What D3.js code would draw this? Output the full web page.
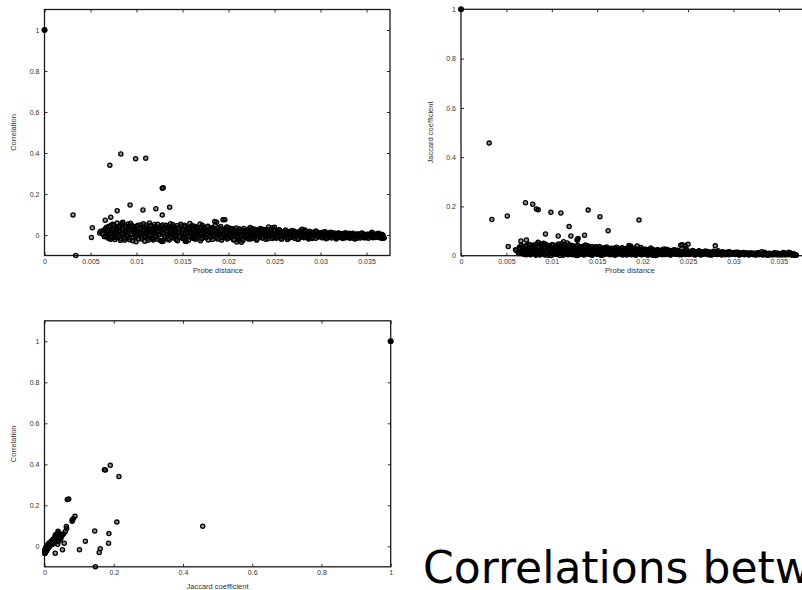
<!DOCTYPE html>
<html>
<head>
<meta charset="utf-8">
<script src="https://cdn.jsdelivr.net/npm/d3@7"></script>
<style>
body{margin:0;background:#fff;}
svg{display:block;}
.tick text{font-family:"Liberation Sans",Arial,sans-serif;font-size:7px;fill:#333;}
.axisTitle{font-family:"Liberation Sans",Arial,sans-serif;font-size:7.5px;fill:#333;}
.slideTitle{font-family:"DejaVu Sans",sans-serif;font-size:44px;fill:#000;}
</style>
</head>
<body>
<svg id="chart" width="802" height="590"></svg>
<script>
// tick labels
var distanceTicks = [0, 0.005, 0.01, 0.015, 0.02, 0.025, 0.03, 0.035];
var unitTicks = [0, 0.2, 0.4, 0.6, 0.8, 1];

// every probe pair is [probe distance, correlation, jaccard coefficient]
var selfPairs = [[0, 1, 1]];

var outlierPairs = [
  [0.0031,0.098,0.457],[0.0034,-0.100,0.147],[0.0051,-0.012,0.161],[0.0052,0.035,0.037],
  [0.0071,0.340,0.215],[0.0083,0.395,0.190],[0.0099,0.372,0.176],[0.0110,0.374,0.173],
  [0.0129,0.231,0.070],[0.0128,0.228,0.066],[0.0128,0.097,0.063],[0.0093,0.146,0.088],
  [0.0079,0.118,0.209],[0.0107,0.122,0.080],[0.0121,0.128,0.080],[0.0136,0.135,0.083],
  [0.0066,0.072,0.060],[0.0072,0.087,0.064],[0.0085,0.062,0.186],[0.0140,0.015,0.185],
  [0.0196,0.075,0.145],[0.0153,-0.030,0.158],[0.0162,-0.017,0.101],[0.0119,0.025,0.118],
  [0.0209,-0.034,0.031],[0.0117,-0.017,0.052],[0.0113,0.015,0.057]
];

var bandPairs = [
  [0.0060,0.010,0.024],[0.0061,0.018,0.021],[0.0063,0.005,0.012],[0.0064,0.022,0.033],[0.0065,-0.008,0.009],[0.0066,0.030,0.041],[0.0068,0.014,0.027],[0.0069,-0.015,0.006],
  [0.0070,0.041,0.038],[0.0071,0.008,0.017],[0.0072,-0.021,0.004],[0.0073,0.025,0.029],[0.0074,0.052,0.046],[0.0075,0.002,0.011],[0.0076,0.017,0.024],[0.0077,-0.012,0.008],[0.0078,0.033,0.035],[0.0079,0.058,0.043],
  [0.0080,-0.004,0.013],[0.0081,0.021,0.030],[0.0082,0.044,0.039],[0.0083,-0.018,0.005],[0.0084,0.009,0.019],[0.0085,0.060,0.055],[0.0086,0.028,0.034],[0.0087,-0.025,0.003],[0.0088,0.013,0.022],[0.0089,0.038,0.047],
  [0.0090,0.000,0.015],[0.0091,0.054,0.051],[0.0092,-0.013,0.007],[0.0093,0.024,0.028],[0.0094,0.006,0.018],[0.0095,0.046,0.040],[0.0096,-0.028,0.002],[0.0097,0.016,0.025],[0.0098,0.031,0.036],[0.0099,-0.007,0.010],
  [0.0100,0.042,0.044],[0.0101,0.011,0.020],[0.0102,-0.020,0.006],[0.0103,0.027,0.031],[0.0104,0.003,0.014],[0.0105,0.050,0.042],[0.0106,-0.010,0.009],[0.0107,0.019,0.026],[0.0108,0.035,0.037],[0.0109,-0.030,0.001],
  [0.0110,0.007,0.016],[0.0111,0.048,0.049],[0.0112,-0.016,0.008],[0.0113,0.023,0.027],[0.0114,0.059,0.045],[0.0115,-0.002,0.012],[0.0116,0.030,0.033],[0.0117,0.014,0.021],[0.0118,-0.024,0.004],[0.0119,0.040,0.039],
  [0.0120,0.009,0.018],[0.0121,-0.011,0.007],[0.0122,0.036,0.034],[0.0123,0.052,0.041],[0.0124,0.001,0.013],[0.0125,0.020,0.024],[0.0126,-0.027,0.003],[0.0127,0.044,0.038],[0.0128,0.012,0.019],[0.0129,-0.031,0.002],
  [0.0130,0.026,0.029],[0.0131,-0.006,0.010],[0.0132,0.047,0.036],[0.0133,0.015,0.022],[0.0134,-0.019,0.005],[0.0135,0.033,0.031],[0.0136,0.004,0.014],[0.0137,0.055,0.043],[0.0138,-0.013,0.008],[0.0139,0.022,0.025],
  [0.0140,0.039,0.033],[0.0141,-0.003,0.011],[0.0142,0.017,0.020],[0.0143,-0.022,0.004],[0.0144,0.045,0.037],[0.0145,0.008,0.016],[0.0146,0.029,0.027],[0.0147,-0.009,0.009],[0.0148,0.053,0.034],[0.0149,0.012,0.018],
  [0.0150,-0.017,0.006],[0.0151,0.024,0.024],[0.0152,0.041,0.030],[0.0153,0.002,0.013],[0.0154,-0.032,0.002],[0.0155,0.018,0.021],[0.0156,0.034,0.028],[0.0157,-0.005,0.010],[0.0158,0.056,0.032],[0.0159,0.010,0.017],
  [0.0160,-0.014,0.007],[0.0161,0.027,0.025],[0.0162,0.006,0.015],[0.0163,0.043,0.029],[0.0164,-0.021,0.004],[0.0165,0.015,0.019],[0.0166,0.031,0.026],[0.0167,-0.004,0.011],[0.0168,0.021,0.022],[0.0169,0.054,0.031],
  [0.0170,0.003,0.013],[0.0171,-0.018,0.005],[0.0172,0.025,0.023],[0.0173,0.037,0.027],[0.0174,0.010,0.016],[0.0175,-0.008,0.009],[0.0176,0.019,0.020],[0.0177,0.040,0.030],[0.0178,-0.024,0.003],[0.0179,0.013,0.017],
  [0.0180,0.028,0.024],[0.0181,-0.011,0.008],[0.0182,0.005,0.014],[0.0183,0.034,0.026],[0.0184,-0.002,0.011],[0.0185,0.066,0.041],[0.0186,0.016,0.018],[0.0187,0.062,0.038],[0.0188,-0.019,0.004],[0.0189,0.022,0.021],
  [0.0190,0.009,0.015],[0.0191,0.030,0.025],[0.0192,-0.014,0.006],[0.0193,0.018,0.019],[0.0194,0.074,0.039],[0.0195,0.001,0.012],[0.0196,0.026,0.022],[0.0197,-0.007,0.009],[0.0198,0.039,0.033],[0.0199,0.012,0.016],
  [0.0200,-0.016,0.005],[0.0201,0.021,0.020],[0.0202,0.004,0.013],[0.0203,0.032,0.026],[0.0204,-0.005,0.010],[0.0205,0.014,0.017],[0.0206,-0.022,0.003],[0.0207,0.025,0.022],[0.0208,0.008,0.014],[0.0209,-0.010,0.008],
  [0.0210,0.017,0.018],[0.0211,-0.026,0.002],[0.0212,0.029,0.024],[0.0213,0.002,0.012],[0.0214,-0.035,0.001],[0.0215,0.011,0.015],[0.0216,0.022,0.021],[0.0217,-0.008,0.009],[0.0218,0.006,0.013],[0.0219,0.019,0.019],
  [0.0220,-0.013,0.007],[0.0221,0.027,0.023],[0.0222,0.000,0.011],[0.0223,0.015,0.017],[0.0224,-0.019,0.005],[0.0225,0.009,0.014],[0.0226,0.031,0.026],[0.0227,-0.003,0.010],[0.0228,0.020,0.019],[0.0229,-0.011,0.007],
  [0.0230,0.012,0.015],[0.0231,-0.021,0.004],[0.0232,0.024,0.021],[0.0233,0.005,0.012],[0.0234,-0.007,0.009],[0.0235,0.016,0.016],[0.0236,0.028,0.022],[0.0237,-0.015,0.006],[0.0238,0.003,0.011],[0.0239,0.019,0.018],
  [0.0240,-0.009,0.008],[0.0241,0.013,0.014],[0.0242,0.026,0.042],[0.0243,-0.018,0.004],[0.0244,0.007,0.012],[0.0245,0.021,0.019],[0.0246,-0.002,0.010],[0.0247,0.010,0.038],[0.0248,0.035,0.027],[0.0249,-0.012,0.006],
  [0.0250,0.038,0.046],[0.0251,0.004,0.011],[0.0252,-0.016,0.005],[0.0253,0.018,0.017],[0.0254,0.009,0.013],[0.0255,-0.006,0.008],[0.0256,0.022,0.019],[0.0257,0.001,0.010],[0.0258,-0.020,0.003],[0.0259,0.014,0.015],
  [0.0260,-0.010,0.007],[0.0261,0.011,0.013],[0.0262,0.024,0.020],[0.0263,-0.003,0.009],[0.0264,-0.022,0.003],[0.0265,0.007,0.012],[0.0266,0.017,0.016],[0.0267,-0.013,0.006],[0.0268,0.003,0.010],[0.0269,0.012,0.014],
  [0.0270,-0.007,0.008],[0.0271,0.019,0.017],[0.0272,-0.017,0.004],[0.0273,0.005,0.011],[0.0274,0.014,0.014],[0.0275,-0.001,0.009],[0.0276,-0.021,0.003],[0.0277,0.009,0.012],[0.0278,0.021,0.018],[0.0279,-0.011,0.006],
  [0.0280,0.028,0.040],[0.0281,0.002,0.010],[0.0282,-0.014,0.005],[0.0283,0.016,0.015],[0.0284,0.006,0.011],[0.0285,-0.008,0.007],[0.0286,0.011,0.013],[0.0287,-0.019,0.003],[0.0288,0.018,0.016],[0.0289,-0.002,0.009],
  [0.0290,0.008,0.012],[0.0291,-0.012,0.006],[0.0292,0.013,0.014],[0.0293,-0.005,0.008],[0.0294,0.004,0.010],[0.0295,-0.016,0.004],[0.0296,0.015,0.015],[0.0297,0.000,0.009],[0.0298,-0.009,0.007],[0.0299,0.010,0.012],
  [0.0300,-0.003,0.008],[0.0301,0.012,0.013],[0.0302,-0.014,0.005],[0.0303,0.005,0.010],[0.0304,-0.007,0.007],[0.0305,0.016,0.014],[0.0306,-0.018,0.003],[0.0307,0.002,0.009],[0.0308,0.009,0.011],[0.0309,-0.010,0.006],
  [0.0310,0.006,0.010],[0.0311,-0.004,0.008],[0.0312,-0.015,0.004],[0.0313,0.011,0.012],[0.0314,0.001,0.009],[0.0315,-0.009,0.006],[0.0316,0.008,0.011],[0.0317,-0.019,0.003],[0.0318,0.004,0.009],[0.0319,-0.006,0.007],
  [0.0320,0.010,0.011],[0.0321,-0.012,0.005],[0.0322,0.003,0.009],[0.0323,-0.002,0.008],[0.0324,-0.017,0.003],[0.0325,0.007,0.010],[0.0326,-0.008,0.006],[0.0327,0.001,0.008],[0.0328,-0.013,0.004],[0.0329,0.006,0.009],
  [0.0330,-0.005,0.007],[0.0331,0.009,0.016],[0.0332,-0.016,0.003],[0.0333,-0.001,0.008],[0.0334,0.004,0.014],[0.0335,-0.010,0.005],[0.0336,0.002,0.009],[0.0337,-0.019,0.002],[0.0338,-0.006,0.006],[0.0339,0.005,0.010],
  [0.0340,-0.011,0.005],[0.0341,0.003,0.008],[0.0342,-0.003,0.007],[0.0343,-0.015,0.003],[0.0344,0.006,0.009],[0.0345,-0.008,0.006],[0.0346,0.000,0.008],[0.0347,-0.013,0.004],[0.0348,0.004,0.011],[0.0349,-0.005,0.006],
  [0.0350,-0.009,0.005],[0.0351,0.002,0.008],[0.0352,-0.016,0.003],[0.0353,-0.004,0.006],[0.0354,0.005,0.009],[0.0355,-0.011,0.004],[0.0356,0.013,0.012],[0.0357,-0.001,0.007],[0.0358,-0.007,0.005],[0.0359,0.003,0.008],
  [0.0360,-0.012,0.004],[0.0361,0.006,0.014],[0.0362,-0.005,0.006],[0.0363,0.001,0.007],[0.0364,-0.014,0.003],[0.0365,0.004,0.008],[0.0366,-0.008,0.004],[0.0367,-0.017,0.002],[0.0368,-0.003,0.005],[0.0369,-0.013,0.003]
];

var moreBandPairs = [
  [0.00655,0.026,0.030],[0.00665,-0.004,0.010],[0.00675,0.038,0.036],[0.00685,0.003,0.015],[0.00695,0.021,0.026],[0.00705,-0.018,0.005],[0.00715,0.045,0.040],[0.00725,0.012,0.020],[0.00735,-0.009,0.009],[0.00745,0.030,0.031],
  [0.00755,0.048,0.044],[0.00765,-0.022,0.004],[0.00775,0.006,0.016],[0.00785,0.024,0.027],[0.00795,-0.011,0.008],[0.00805,0.039,0.037],[0.00815,0.015,0.022],[0.00825,-0.027,0.002],[0.00835,0.052,0.048],[0.00845,0.001,0.012],
  [0.00855,0.031,0.033],[0.00865,-0.016,0.006],[0.00875,0.020,0.024],[0.00885,0.044,0.041],[0.00895,-0.006,0.011],[0.00905,0.011,0.019],[0.00915,0.035,0.034],[0.00925,-0.023,0.003],[0.00935,0.057,0.046],[0.00945,0.004,0.014],
  [0.00955,0.027,0.029],[0.00965,-0.012,0.008],[0.00975,0.041,0.038],[0.00985,0.009,0.017],[0.00995,-0.033,0.001],[0.01005,0.022,0.025],[0.01015,0.047,0.043],[0.01025,-0.003,0.012],[0.01035,0.014,0.021],[0.01045,0.033,0.032],
  [0.01055,-0.019,0.005],[0.01065,0.005,0.015],[0.01075,0.055,0.047],[0.01085,0.025,0.028],[0.01095,-0.008,0.010],[0.01105,0.038,0.035],[0.01115,0.016,0.022],[0.01125,-0.026,0.002],[0.01135,0.029,0.030],[0.01145,0.002,0.013],
  [0.01155,0.046,0.040],[0.01165,-0.014,0.007],[0.01175,0.021,0.024],[0.01185,0.008,0.017],[0.01195,0.051,0.044],[0.01205,-0.005,0.011],[0.01215,0.032,0.031],[0.01225,-0.021,0.004],[0.01235,0.017,0.023],[0.01245,0.039,0.036],
  [0.01255,0.003,0.014],[0.01265,0.028,0.029],[0.01275,-0.032,0.001],[0.01285,0.049,0.041],[0.01295,0.010,0.018],[0.01305,-0.010,0.008],[0.01315,0.036,0.033],[0.01325,0.019,0.023],[0.01335,-0.002,0.012],[0.01345,0.042,0.038],
  [0.01355,-0.024,0.003],[0.01365,0.013,0.019],[0.01375,0.030,0.028],[0.01385,0.005,0.015],[0.01395,0.050,0.040],[0.01405,-0.015,0.006],[0.01415,0.023,0.024],[0.01425,0.037,0.032],[0.01435,0.000,0.012],[0.01445,-0.028,0.002],
  [0.01455,0.033,0.030],[0.01465,0.015,0.020],[0.01475,-0.007,0.009],[0.01485,0.044,0.036],[0.01495,0.024,0.025],[0.01505,-0.012,0.008],[0.01515,0.009,0.016],[0.01525,0.048,0.037],[0.01535,-0.020,0.004],[0.01545,0.029,0.027],
  [0.01555,0.006,0.014],[0.01565,-0.026,0.003],[0.01575,0.036,0.031],[0.01585,0.017,0.021],[0.01595,-0.001,0.011],[0.01605,0.045,0.035],[0.01615,0.011,0.017],[0.01625,-0.010,0.008],[0.01635,0.026,0.026],[0.01645,0.002,0.012],
  [0.01655,0.038,0.030],[0.01665,-0.017,0.005],[0.01675,0.020,0.022],[0.01685,0.008,0.015],[0.01695,-0.028,0.002],[0.01705,0.032,0.028],[0.01715,0.047,0.034],[0.01725,-0.004,0.010],[0.01735,0.016,0.019],[0.01745,0.028,0.025],
  [0.01755,-0.014,0.006],[0.01765,0.004,0.013],[0.01775,0.043,0.032],[0.01785,0.023,0.023],[0.01795,-0.007,0.009],[0.01805,0.012,0.017],[0.01815,0.035,0.029],[0.01825,-0.022,0.003],[0.01835,0.027,0.025],[0.01845,0.001,0.011],
  [0.01855,0.048,0.035],[0.01865,-0.012,0.007],[0.01875,0.019,0.020],[0.01885,0.033,0.027],[0.01895,-0.003,0.010],[0.01905,0.010,0.016],[0.01915,0.041,0.031],[0.01925,-0.025,0.002],[0.01935,0.024,0.022],[0.01945,0.005,0.013],
  [0.01955,-0.010,0.008],[0.01965,0.029,0.024],[0.01975,0.015,0.018],[0.01985,-0.019,0.004],[0.01995,0.036,0.028],[0.02005,0.003,0.012],[0.02015,0.024,0.021],[0.02025,-0.011,0.007],[0.02035,0.012,0.016],[0.02045,0.030,0.025],
  [0.02055,-0.024,0.003],[0.02065,0.018,0.019],[0.02075,-0.002,0.010],[0.02085,0.034,0.026],[0.02095,0.007,0.013],[0.02105,-0.015,0.006],[0.02115,0.026,0.022],[0.02125,0.010,0.015],[0.02135,-0.006,0.009],[0.02145,0.021,0.020],
  [0.02155,-0.028,0.002],[0.02165,0.032,0.025],[0.02175,0.003,0.012],[0.02185,-0.012,0.007],[0.02195,0.014,0.016],[0.02205,0.025,0.021],[0.02215,-0.020,0.004],[0.02225,0.007,0.013],[0.02235,0.036,0.027],[0.02245,-0.004,0.009],
  [0.02255,0.019,0.018],[0.02265,-0.016,0.005],[0.02275,0.011,0.014],[0.02285,0.028,0.023],[0.02295,0.000,0.010],[0.02305,-0.025,0.003],[0.02315,0.021,0.019],[0.02325,0.008,0.013],[0.02335,-0.009,0.008],[0.02345,0.032,0.024],
  [0.02355,0.004,0.011],[0.02365,-0.013,0.006],[0.02375,0.017,0.017],[0.02385,0.027,0.022],[0.02395,-0.001,0.009],[0.02405,-0.021,0.004],[0.02415,0.022,0.019],[0.02425,0.009,0.013],[0.02435,0.039,0.044],[0.02445,-0.006,0.008],
  [0.02455,0.015,0.016],[0.02465,0.029,0.041],[0.02475,-0.017,0.005],[0.02485,0.003,0.011],[0.02495,0.024,0.020],
  [0.0251,-0.011,0.007],[0.0253,0.012,0.014],[0.0255,0.026,0.021],[0.0257,-0.019,0.004],[0.0259,0.006,0.012],
  [0.0261,-0.004,0.009],[0.0263,0.018,0.017],[0.0265,-0.015,0.005],[0.0267,0.008,0.013],[0.0269,0.022,0.019],
  [0.0271,-0.009,0.007],[0.0273,0.013,0.015],[0.0275,-0.020,0.003],[0.0277,0.002,0.010],[0.0279,0.016,0.016],
  [0.0281,-0.006,0.008],[0.0283,0.024,0.020],[0.0285,0.005,0.011],[0.0287,-0.012,0.006],[0.0289,0.011,0.013],
  [0.0291,-0.017,0.004],[0.0293,0.009,0.012],[0.0295,0.019,0.016],[0.0297,-0.007,0.007],[0.0299,0.003,0.010],
  [0.0301,-0.012,0.006],[0.0303,0.014,0.014],[0.0305,-0.001,0.009],[0.0307,-0.016,0.004],[0.0309,0.008,0.011],
  [0.0311,0.013,0.013],[0.0313,-0.008,0.006],[0.0315,0.003,0.009],[0.0317,-0.013,0.005],[0.0319,0.009,0.011],
  [0.0321,-0.004,0.007],[0.0323,0.006,0.010],[0.0325,-0.015,0.004],[0.0327,0.011,0.012],[0.0329,-0.009,0.006],
  [0.0331,0.002,0.008],[0.0333,-0.012,0.005],[0.0335,0.008,0.011],[0.0337,-0.003,0.007],[0.0339,-0.017,0.003],
  [0.0341,0.005,0.009],[0.0343,-0.007,0.006],[0.0345,0.010,0.012],[0.0347,-0.002,0.007],[0.0349,-0.014,0.004],
  [0.0351,0.004,0.009],[0.0353,-0.009,0.005],[0.0355,0.008,0.013],[0.0357,-0.013,0.004],[0.0359,0.001,0.008],
  [0.0361,-0.006,0.005],[0.0363,0.009,0.011],[0.0365,-0.010,0.004],[0.0367,0.002,0.007],[0.0369,-0.015,0.002]
];

var svg = d3.select("#chart");
var pairs = bandPairs.concat(moreBandPairs, outlierPairs);

var panels = [
  {id: "distCorr", left: 44.5, top: 9.5, right: 390, bottom: 255.5,
   xDomain: [0, 0.03755], yDomain: [-0.1, 1.1], xTicks: distanceTicks, yTicks: unitTicks,
   xLabel: "Probe distance", yLabel: "Correlation", xLabelX: 218, xLabelY: 272.5, yLabelX: 15.5, xi: 0, yi: 1},
  {id: "distJac", left: 461, top: 9.3, right: 807, bottom: 255.7,
   xDomain: [0, 0.0381], yDomain: [0, 1], xTicks: distanceTicks, yTicks: unitTicks,
   xLabel: "Probe distance", yLabel: "Jaccard coefficient", xLabelX: 630, xLabelY: 272.5, yLabelX: 432.5, xi: 0, yi: 2},
  {id: "jacCorr", left: 44.5, top: 320.8, right: 390.7, bottom: 566.8,
   xDomain: [0, 1], yDomain: [-0.1, 1.1], xTicks: unitTicks, yTicks: unitTicks,
   xLabel: "Jaccard coefficient", yLabel: "Correlation", xLabelX: 217.5, xLabelY: 588.5, yLabelX: 15.5, xi: 2, yi: 1}
];

function fmt(d) { return String(d); }

function drawPanel(p) {
  var x = d3.scaleLinear().domain(p.xDomain).range([p.left, p.right]);
  var y = d3.scaleLinear().domain(p.yDomain).range([p.bottom, p.top]);
  var g = svg.append("g").attr("id", p.id).style("color", "#333");

  g.append("g").attr("transform", "translate(0," + p.bottom + ")")
    .call(d3.axisBottom(x).tickValues(p.xTicks).tickFormat(fmt).tickSizeInner(-3).tickSizeOuter(0).tickPadding(3.5));
  g.append("g").attr("transform", "translate(0," + p.top + ")")
    .call(d3.axisTop(x).tickValues(p.xTicks).tickFormat("").tickSizeInner(-3).tickSizeOuter(0));
  g.append("g").attr("transform", "translate(" + p.left + ",0)")
    .call(d3.axisLeft(y).tickValues(p.yTicks).tickFormat(fmt).tickSizeInner(-3).tickSizeOuter(0).tickPadding(5));
  g.append("g").attr("transform", "translate(" + p.right + ",0)")
    .call(d3.axisRight(y).tickValues(p.yTicks).tickFormat("").tickSizeInner(-3).tickSizeOuter(0));
  g.selectAll(".domain").remove();

  g.append("rect")
    .attr("x", p.left).attr("y", p.top)
    .attr("width", p.right - p.left).attr("height", p.bottom - p.top)
    .attr("fill", "none").attr("stroke", "#1a1a1a").attr("stroke-width", 1.3);

  g.append("text").attr("class", "axisTitle")
    .attr("x", p.xLabelX).attr("y", p.xLabelY)
    .attr("text-anchor", "middle").text(p.xLabel);
  g.append("text").attr("class", "axisTitle")
    .attr("transform", "translate(" + p.yLabelX + "," + ((p.top + p.bottom) / 2) + ") rotate(-90)")
    .attr("text-anchor", "middle").text(p.yLabel);

  // open gnuplot-style rings: translucent centres so overlaps build up to black
  g.append("g").selectAll("circle")
    .data(pairs)
    .enter()
    .append("circle")
    .attr("cx", function(d) { return x(d[p.xi]); })
    .attr("cy", function(d) { return y(d[p.yi]); })
    .attr("r", 2.1)
    .attr("fill", "#000")
    .attr("fill-opacity", 0.42)
    .attr("stroke", "#000")
    .attr("stroke-width", 1.3);

  g.append("g").selectAll("circle")
    .data(selfPairs)
    .enter()
    .append("circle")
    .attr("cx", function(d) { return x(d[p.xi]); })
    .attr("cy", function(d) { return y(d[p.yi]); })
    .attr("r", 3)
    .attr("fill", "#000");
}

panels.forEach(drawPanel);

svg.append("text").attr("class", "slideTitle")
  .attr("x", 423).attr("y", 583)
  .text("Correlations between");
</script>
</body>
</html>
